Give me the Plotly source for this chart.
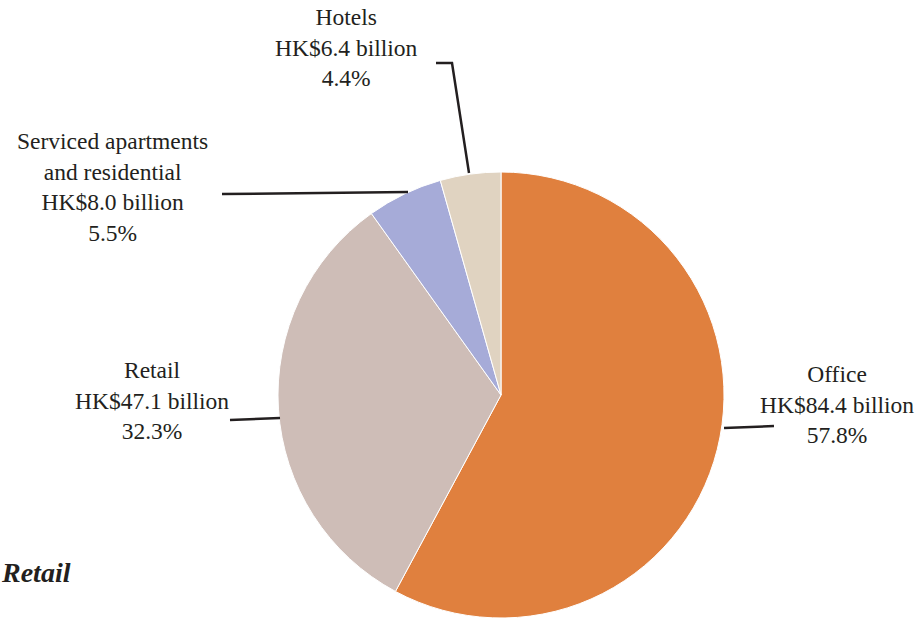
import plotly.graph_objects as go

# ---- data ----
categories = ["Office", "Retail", "Serviced apartments<br>and residential", "Hotels"]
values_hkd_bn = [84.4, 47.1, 8.0, 6.4]
percent_labels = ["57.8%", "32.3%", "5.5%", "4.4%"]
amount_labels = ["HK$84.4 billion", "HK$47.1 billion", "HK$8.0 billion", "HK$6.4 billion"]
colors = ["#E0803E", "#CEBDB7", "#A6ABD8", "#E0D3C1"]

W, H = 923, 618
FONT = "Liberation Serif"


def px(x):
    return x / W


def py(y):
    return 1 - y / H


# pie geometry (pixels)
cx, cy, r = 501, 395, 223

fig = go.Figure()
fig.add_trace(go.Pie(
    labels=[c.replace("<br>", " ") for c in categories],
    values=values_hkd_bn,
    sort=False,
    direction="clockwise",
    rotation=0,
    marker=dict(colors=colors, line=dict(color="white", width=1)),
    textinfo="none",
    hoverinfo="label+value+percent",
    showlegend=False,
    domain=dict(x=[px(cx - r), px(cx + r)], y=[0, py(cy - r)]),
))

# label annotations: (text-center x, text-center y) in pixels
label_pos = [(837, 404), (152, 400), (112, 187), (346, 47)]
for cat, amt, pct, (lx, ly) in zip(categories, amount_labels, percent_labels, label_pos):
    fig.add_annotation(
        x=px(lx), y=py(ly), xref="paper", yref="paper",
        text=f"{cat}<br>{amt}<br>{pct}",
        showarrow=False, align="center",
        xanchor="center", yanchor="middle",
        font=dict(family=FONT, size=23.5, color="#231F20"),
    )

# leader lines (pixel paths)
leaders = [
    [(724, 428), (774, 426)],
    [(280, 418), (230, 420)],
    [(408, 192), (222, 194)],
    [(469, 173), (452, 63), (436, 63)],
]
for pts in leaders:
    path = "M " + " L ".join(f"{px(x):.5f},{py(y):.5f}" for x, y in pts)
    fig.add_shape(type="path", xref="paper", yref="paper", path=path,
                  line=dict(color="#231F20", width=2.5))

# cut-off heading fragment
fig.add_annotation(
    x=-0.001, y=py(572), xref="paper", yref="paper",
    text="<b><i>Retail</i></b>", showarrow=False,
    xanchor="left", yanchor="middle",
    font=dict(family=FONT, size=28, color="#231F20"),
)

fig.update_layout(
    width=W, height=H,
    margin=dict(l=0, r=0, t=0, b=0),
    paper_bgcolor="white",
    plot_bgcolor="white",
)

fig.write_html("out.html", config={"displayModeBar": False},
               post_script="document.body.style.margin='0px';document.body.style.overflow='hidden';")
